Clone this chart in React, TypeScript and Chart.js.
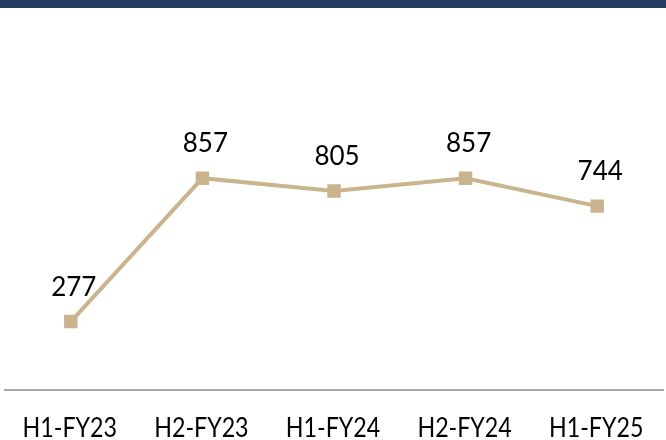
import React, { useEffect, useRef } from "react";
import { Chart, registerables } from "chart.js";

Chart.register(...registerables);

const categories = ["H1-FY23", "H2-FY23", "H1-FY24", "H2-FY24", "H1-FY25"];
const values = [277, 857, 805, 857, 744];

const LINE_COLOR = "#C9B48D";

const labelPlugin = {
  id: "valueLabels",
  afterDatasetsDraw(chart: any) {
    const ctx = chart.ctx;
    const meta = chart.getDatasetMeta(0);
    const xScale = chart.scales.x;
    ctx.save();
    ctx.font = "26px Lato";
    ctx.fillStyle = "#000000";
    ctx.textAlign = "center";
    ctx.textBaseline = "alphabetic";
    meta.data.forEach((pt: any, i: number) => {
      ctx.fillText(String(values[i]), pt.x + 3, pt.y - 26);
    });
    ctx.restore();

    // category labels (condensed)
    categories.forEach((c, i) => {
      const x = xScale.getPixelForValue(i) - 1;
      ctx.save();
      ctx.translate(x, 437);
      ctx.scale(0.86, 1);
      ctx.font = "27px Lato";
      ctx.fillStyle = "#000000";
      ctx.textAlign = "center";
      ctx.textBaseline = "alphabetic";
      ctx.fillText(c, 0, 0);
      ctx.restore();
    });
  },
};

export default function App() {
  const ref = useRef<HTMLCanvasElement | null>(null);
  useEffect(() => {
    if (!ref.current) return;
    const chart = new Chart(ref.current, {
      type: "line",
      data: {
        labels: categories,
        datasets: [
          {
            data: values,
            borderColor: LINE_COLOR,
            backgroundColor: LINE_COLOR,
            borderWidth: 4,
            pointStyle: "rect",
            pointRadius: 9.5,
            pointBorderWidth: 0,
            pointBackgroundColor: LINE_COLOR,
            tension: 0,
          },
        ],
      },
      options: {
        responsive: false,
        animation: false,
        layout: { autoPadding: false, padding: { top: 44, left: 5, right: 3, bottom: 50 } },
        plugins: { legend: { display: false }, tooltip: { enabled: false } },
        scales: {
          x: {
            offset: true,
            grid: { display: false, drawTicks: false },
            border: { display: true, color: "#A6A6A6", width: 2 },
            ticks: { display: false },
          },
          y: {
            display: false,
            min: 0,
            max: 1400,
          },
        },
      },
      plugins: [labelPlugin],
    });
    return () => chart.destroy();
  }, []);
  return (
    <div style={{ position: "fixed", top: 0, left: 0, width: 666, height: 440, background: "#fff" }}>
      <canvas ref={ref} width={666} height={440} style={{ width: 666, height: 440, display: "block" }} />
      <div style={{ position: "absolute", top: 0, left: 0, width: 666, height: 8, background: "#263D61" }} />
    </div>
  );
}
